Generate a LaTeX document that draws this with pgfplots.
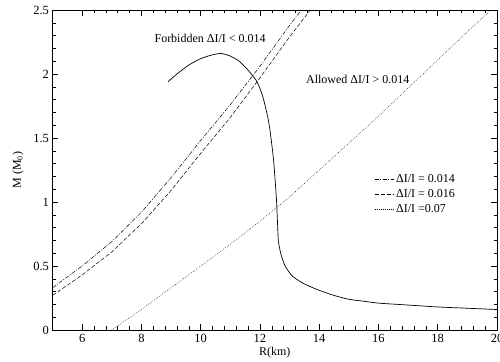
\documentclass[border=0pt]{standalone}
\usepackage{fontspec}
\setmainfont{Liberation Serif}
\usepackage{pgfplots}
\pgfplotsset{compat=1.18}
\begin{document}
\begin{tikzpicture}
\begin{axis}[
  scale only axis,
  width=444.5pt, height=320pt,
  xmin=5, xmax=20, ymin=0, ymax=2.5,
  xtick={6,8,...,20},
  ytick={0,0.5,...,2.5},
  minor x tick num=4,
  minor y tick num=4,
  tick align=inside,
  tick pos=both,
  major tick length=6pt,
  minor tick length=3.5pt,
  every tick/.style={black, line width=0.5pt},
  axis line style={line width=0.6pt},
  /pgf/number format/assume math mode=true,
  tick label style={font=\fontsize{12.5}{14}\selectfont},
  xticklabel style={yshift=-1pt},
  xlabel={R(km)},
  ylabel={M (M\textsubscript{0})},
  label style={font=\fontsize{12}{14}\selectfont},
  xlabel style={yshift=3pt},
  ylabel style={yshift=3pt},
  legend style={at={(axis cs:15.75,1.25)}, anchor=north west, draw=none, fill=none,
    font=\fontsize{12}{14}\selectfont, row sep=1.5pt},
  legend cell align=left,
  legend image code/.code={\draw[#1] (0cm,0cm) -- (0.68cm,0cm);},
]
\coordinate (ll) at (rel axis cs:0,0);
\coordinate (ur) at (rel axis cs:1,1);
\addplot[black, line width=0.5pt, dash pattern=on 4pt off 1.5pt on 1pt off 1.5pt] coordinates {
(5,0.33)(6,0.5)(7,0.69)(8,0.92)(9,1.19)(10,1.48)(11,1.76)(12,2.06)(13,2.38)(13.4,2.5)};
\addlegendentry{ΔI/I = 0.014}
\addplot[black, line width=0.5pt, dash pattern=on 4pt off 2pt] coordinates {
(5,0.27)(6,0.43)(7,0.61)(8,0.83)(9,1.09)(10,1.38)(11,1.66)(12,1.97)(13,2.29)(13.7,2.5)};
\addlegendentry{ΔI/I = 0.016}
\addplot[black, line width=0.5pt, dash pattern=on 0.6pt off 1.4pt] coordinates {
(7,0)(8,0.16)(9,0.33)(10,0.5)(11,0.67)(12,0.85)(13,1.04)(14,1.25)(15,1.46)(16,1.67)(17,1.89)(18,2.11)(19,2.33)(19.8,2.5)};
\addlegendentry{ΔI/I =0.07}
\addplot[black, line width=0.7pt, smooth, tension=0.4, forget plot] coordinates {
(8.9,1.94)(9.2,2.0)(9.6,2.07)(10.0,2.12)(10.4,2.15)(10.7,2.16)(11.0,2.14)(11.3,2.10)(11.6,2.03)(11.9,1.94)(12.1,1.82)(12.3,1.62)(12.45,1.35)(12.55,1.05)(12.6,0.8)(12.62,0.7)(12.7,0.6)(12.85,0.5)(13.1,0.42)(13.5,0.36)(14.0,0.31)(14.5,0.27)(15.0,0.24)(15.5,0.225)(16.0,0.21)(17.0,0.195)(18.0,0.18)(19.0,0.17)(20.0,0.16)};
\node[font=\fontsize{12}{14}\selectfont] at (axis cs:10.32,2.28) {Forbidden ΔI/I < 0.014};
\node[font=\fontsize{12}{14}\selectfont] at (axis cs:15.3,1.96) {Allowed ΔI/I > 0.014};
\end{axis}
\pgfresetboundingbox
\path[use as bounding box] ([xshift=-52.5pt,yshift=-31pt]ll) rectangle ([xshift=3pt,yshift=10pt]ur);
\end{tikzpicture}
\end{document}
